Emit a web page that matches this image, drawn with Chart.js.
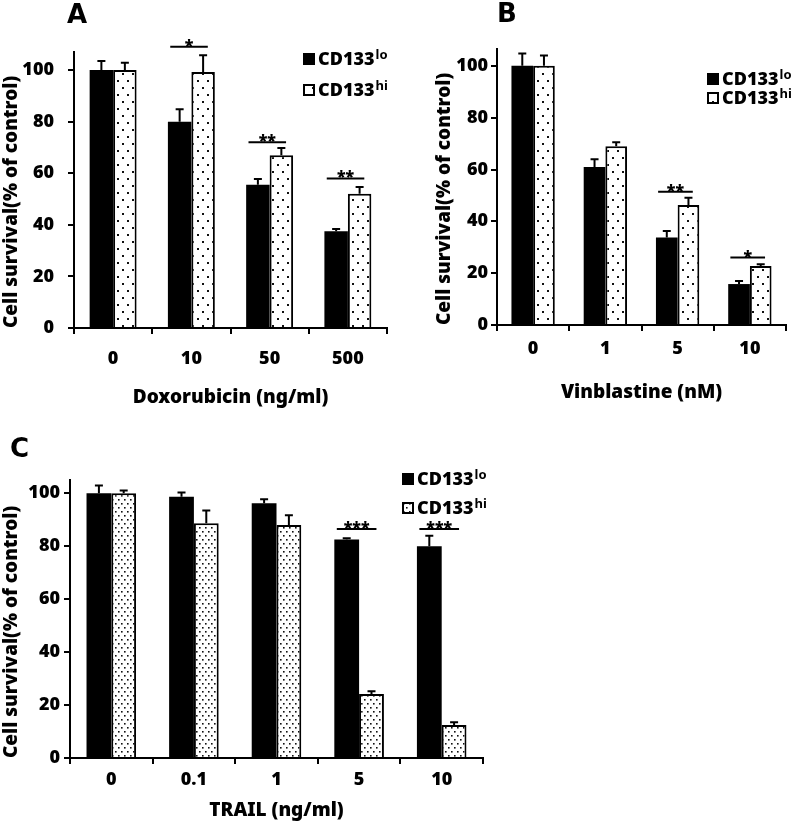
<!DOCTYPE html>
<html><head><meta charset="utf-8">
<script src="https://cdn.jsdelivr.net/npm/chart.js@4.4.0/dist/chart.umd.min.js"></script>
<style>
html,body{margin:0;padding:0;background:#fff;}
#wrap{position:relative;width:800px;height:825px;}
canvas{position:absolute;}
</style></head><body>
<div id="wrap">
<canvas id="cA" width="400" height="420" style="left:0;top:0"></canvas>
<canvas id="cB" width="400" height="420" style="left:400px;top:0"></canvas>
<canvas id="cC" width="500" height="395" style="left:0;top:430px"></canvas>
</div>
<script>
// ---- data ----
const seriesBase = 'CD133';
const seriesSup = ['lo', 'hi'];
const yTitle = 'Cell survival(% of control)';

const catsA = ['0', '10', '50', '500'];
const loA = [100, 80, 55.5, 37.5];
const loAErr = [3.5, 4.8, 2.3, 0.9];
const hiA = [100, 99.2, 67, 52];
const hiAErr = [2.8, 6.5, 2.8, 2.7];
const sigA = [[1, 109, '*'], [2, 72, '**'], [3, 58, '**']];

const catsB = ['0', '1', '5', '10'];
const loB = [100, 61, 33.8, 15.8];
const loBErr = [4.8, 3.0, 2.5, 1.2];
const hiB = [100, 69, 46.3, 22.8];
const hiBErr = [4.0, 1.5, 2.8, 0.6];
const sigB = [[2, 51.4, '**'], [3, 26, '*']];

const catsC = ['0', '0.1', '1', '5', '10'];
const loC = [100, 98.7, 96.2, 82.5, 80];
const loCErr = [2.9, 1.6, 1.5, 0.5, 3.9];
const hiC = [100, 88.7, 88, 24.2, 12.5];
const hiCErr = [1.0, 4.8, 3.7, 1.0, 1.0];
const sigC = [[3, 86.5, '***'], [4, 86.5, '***']];

// ---- style ----
const F = "'Noto Sans', 'Open Sans', 'Liberation Sans', sans-serif";
const W = '900';

function makePattern(w, h, dots, size) {
  const c = document.createElement('canvas');
  c.width = w; c.height = h;
  const g = c.getContext('2d');
  g.fillStyle = '#fff'; g.fillRect(0, 0, w, h);
  g.fillStyle = '#111';
  dots.forEach(([x, y]) => g.fillRect(x, y, size, size));
  return g.createPattern(c, 'repeat');
}

const errPlugin = {
  id: 'errbars',
  afterDatasetsDraw(chart) {
    const ctx = chart.ctx, ys = chart.scales.y;
    chart.data.datasets.forEach((ds, di) => {
      chart.getDatasetMeta(di).data.forEach((bar, i) => {
        const top = ys.getPixelForValue(ds.data[i] + ds.err[i]);
        ctx.save();
        ctx.strokeStyle = '#000'; ctx.lineWidth = 2;
        ctx.beginPath();
        ctx.moveTo(bar.x, bar.y); ctx.lineTo(bar.x, top);
        ctx.moveTo(bar.x - 4, top); ctx.lineTo(bar.x + 4, top);
        ctx.stroke();
        ctx.restore();
      });
    });
  }
};

const sigPlugin = {
  id: 'sig',
  afterDatasetsDraw(chart, args, o) {
    const ctx = chart.ctx, ys = chart.scales.y;
    const m0 = chart.getDatasetMeta(0), m1 = chart.getDatasetMeta(1);
    (o.items || []).forEach(([i, v, t]) => {
      const b0 = m0.data[i], b1 = m1.data[i];
      const x0 = b0.x - 0.4 * b0.width, x1 = b1.x + 0.2 * b1.width;
      const py = ys.getPixelForValue(v);
      ctx.save();
      ctx.strokeStyle = '#000'; ctx.lineWidth = 2;
      ctx.beginPath(); ctx.moveTo(x0, py); ctx.lineTo(x1, py); ctx.stroke();
      ctx.fillStyle = '#000';
      ctx.font = W + ' 16px ' + F;
      ctx.textAlign = 'center'; ctx.textBaseline = 'alphabetic';
      ctx.fillText(t, (x0 + x1) / 2, py + 4);
      ctx.restore();
    });
  }
};

const legendPlugin = {
  id: 'supLegend',
  afterDraw(chart, args, o) {
    const ctx = chart.ctx;
    chart.data.datasets.forEach((ds, i) => {
      const by = o.y + i * o.gap;
      ctx.save();
      ctx.fillStyle = ds.backgroundColor;
      ctx.fillRect(o.x, by - 12, 12, 12);
      if (ds.borderWidth) {
        ctx.strokeStyle = '#000'; ctx.lineWidth = 2;
        ctx.strokeRect(o.x + 1, by - 11, 10, 10);
      }
      ctx.fillStyle = '#000';
      ctx.font = W + ' 18px ' + F;
      ctx.textAlign = 'left'; ctx.textBaseline = 'alphabetic';
      const tx = o.x + 15;
      ctx.fillText(seriesBase, tx, by);
      const w = ctx.measureText(seriesBase).width;
      ctx.font = 'bold 13px ' + F;
      ctx.fillText(seriesSup[i], tx + w + 1, by - 6);
      ctx.restore();
    });
  }
};

const letterPlugin = {
  id: 'panelLetter',
  afterDraw(chart, args, o) {
    const ctx = chart.ctx;
    ctx.save();
    ctx.fillStyle = '#000';
    ctx.font = "bold 26px 'DejaVu Sans', sans-serif";
    ctx.textAlign = 'left'; ctx.textBaseline = 'alphabetic';
    ctx.fillText(o.text, o.x, o.y);
    ctx.restore();
  }
};

function makeChart(id, c) {
  const L = c.L;
  return new Chart(document.getElementById(id), {
    type: 'bar',
    data: {
      labels: c.cats,
      datasets: [
        { label: seriesBase + seriesSup[0], data: c.lo, err: c.loErr,
          backgroundColor: '#000', borderColor: '#000', borderWidth: 0 },
        { label: seriesBase + seriesSup[1], data: c.hi, err: c.hiErr,
          backgroundColor: c.pattern, borderColor: '#000', borderWidth: 2 }
      ]
    },
    options: {
      responsive: false,
      animation: false,
      layout: { padding: { top: L.top, right: L.right, left: 0, bottom: 0 } },
      datasets: { bar: { categoryPercentage: 0.6, barPercentage: 1 } },
      plugins: {
        legend: { display: false },
        tooltip: { enabled: false },
        sig: { items: c.sig },
        supLegend: L.legend,
        panelLetter: L.letter
      },
      scales: {
        x: {
          grid: { display: true, drawOnChartArea: false, tickLength: 6, lineWidth: 2, color: '#000', offset: true },
          border: { display: true, color: '#000', width: 2 },
          ticks: { color: '#000', font: { family: F, size: 18, weight: W }, padding: L.xPad },
          title: { display: true, text: c.xTitle, color: '#000',
                   font: { family: F, size: 19, weight: W }, padding: { top: 0, bottom: L.xTitlePb } },
          afterFit(s) { s.height = L.xH; }
        },
        y: {
          min: 0, max: c.max,
          grid: { display: true, drawOnChartArea: false, tickLength: 6, lineWidth: 2, color: '#000' },
          border: { display: true, color: '#000', width: 2 },
          ticks: { stepSize: 20, includeBounds: false, color: '#000',
                   font: { family: F, size: 18, weight: W }, padding: L.yPad },
          title: { display: true, text: yTitle, align: 'start', color: '#000',
                   font: { family: F, size: 19, weight: W }, padding: { top: L.yTitlePt, bottom: 0 } },
          afterBuildTicks(s) { s.ticks = s.ticks.filter(t => t.value % 20 === 0); },
          afterFit(s) { s.width = L.yW; }
        }
      }
    },
    plugins: [errPlugin, sigPlugin, legendPlugin, letterPlugin]
  });
}

const patAB = makePattern(10, 14, [[2, 3], [7, 10]], 2);
const patC = makePattern(6, 8, [[1, 1], [4, 5]], 1.6);

makeChart('cA', {
  cats: catsA, lo: loA, loErr: loAErr, hi: hiA, hiErr: hiAErr, sig: sigA,
  xTitle: 'Doxorubicin (ng/ml)', max: 107, pattern: patAB,
  L: { top: 52, right: 13, yW: 74, xH: 92, xPad: 14, xTitlePb: 11, yTitlePt: 0, yPad: 14,
       legend: { x: 303, y: 65, gap: 31 }, letter: { text: 'A', x: 67, y: 23 } }
});
makeChart('cB', {
  cats: catsB, lo: loB, loErr: loBErr, hi: hiB, hiErr: hiBErr, sig: sigB,
  xTitle: 'Vinblastine (nM)', max: 106.5, pattern: patAB,
  L: { top: 49, right: 14, yW: 97, xH: 95, xPad: 7, xTitlePb: 16, yTitlePt: 33, yPad: 3,
       legend: { x: 307, y: 85, gap: 19 }, letter: { text: 'B', x: 97, y: 22 } }
});
makeChart('cC', {
  cats: catsC, lo: loC, loErr: loCErr, hi: hiC, hiErr: hiCErr, sig: sigC,
  xTitle: 'TRAIL (ng/ml)', max: 105, pattern: patC,
  L: { top: 50, right: 17, yW: 70, xH: 67, xPad: 5, xTitlePb: 3, yTitlePt: 0, yPad: 4,
       legend: { x: 402, y: 55, gap: 29 }, letter: { text: 'C', x: 10, y: 27 } }
});
</script>
</body></html>
